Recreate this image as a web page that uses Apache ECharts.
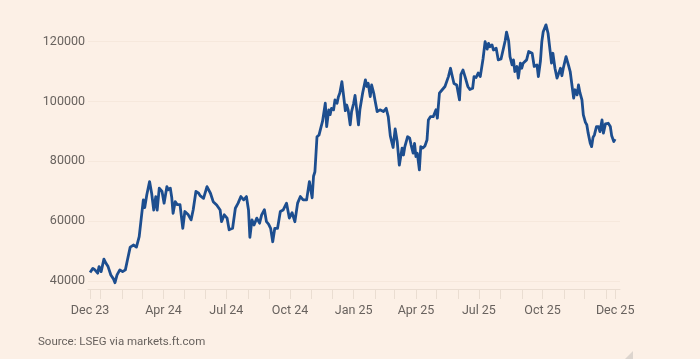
<!DOCTYPE html>
<html>
<head>
<meta charset="utf-8">
<script src="https://cdn.jsdelivr.net/npm/echarts@6/dist/echarts.min.js"></script>
<style>
  html, body { margin: 0; padding: 0; background: #FCF0E6; }
  #chart { width: 700px; height: 359px; }
</style>
</head>
<body>
<div id="chart"></div>
<script>
// Days since 17 Dec 2023 and Bitcoin price (US$)
const days = [0,4,7,11,13,16,20,23,26,30,34,36,39,43,47,51,54,58,63,67,71,74,77,79,82,86,89,92,95,97,100,104,107,111,113,116,118,120,123,126,130,134,137,142,146,149,153,157,159,164,169,174,178,183,188,190,194,198,201,206,210,214,218,222,226,229,231,234,237,241,245,248,252,255,258,261,264,267,271,275,279,284,288,292,296,300,304,308,313,317,321,323,325,328,331,334,336,340,342,345,347,349,352,354,357,359,361,364,366,369,371,373,376,378,381,383,386,388,390,394,398,400,402,405,407,410,412,415,419,424,428,431,434,438,441,444,447,451,453,455,459,462,464,467,469,471,473,476,478,481,484,487,489,492,496,500,502,505,509,511,513,518,521,523,526,530,534,536,539,542,546,549,553,555,558,561,564,568,571,574,576,578,581,583,587,590,594,597,600,602,605,607,610,612,614,617,619,622,624,626,631,634,636,639,642,646,648,651,653,655,659,662,664,667,669,672,675,677,680,682,684,688,692,694,696,699,701,704,706,708,711,713,716,718,720,723,725,727,729,732,735,737,740,742,745,747,749,752,754,757,759];
const prices = [42800,44200,43700,42600,44800,43100,47300,45900,44800,42000,40600,39400,42000,43700,43100,43700,47000,51300,52000,51300,54800,61000,67100,64500,68800,73200,69300,63700,68200,63700,71000,69900,66000,71500,70500,71000,68000,62600,66500,65500,65500,57600,63200,62100,60400,63700,69900,69300,68500,67600,71500,69300,66500,65400,63700,59800,62100,61000,57100,57600,64300,66000,68200,67100,68200,63700,54600,60400,58700,61000,59300,62100,63800,59800,59000,57600,53100,57600,57600,63200,63700,66000,61000,62800,59800,66000,68200,67100,67100,73200,67800,75000,76500,88200,88800,91600,93300,99400,91600,97200,95600,97700,97200,100500,99400,101600,102800,106600,102800,96900,98800,97200,92200,96600,99400,102000,96100,92200,97200,102800,107200,105000,106100,101600,105500,102800,100200,96600,97200,96600,97700,94900,88500,84600,90800,86500,78700,84400,82100,84900,88200,87700,85500,82700,86000,81600,82700,77100,84900,84400,85100,87100,93800,94900,94900,97200,94400,102800,103900,103300,105000,108300,111100,109000,106000,105500,100500,109000,110500,108300,105000,104000,104400,108300,108000,109500,108300,114200,120000,117500,119400,118300,118900,117200,117800,113900,114200,117200,120300,123200,120300,115000,112200,113900,110000,111700,107800,112800,111100,112800,113900,116700,117200,116100,111700,112200,108300,113500,120000,123300,125600,122800,122200,112800,116100,111100,107800,107200,111100,108600,111100,115000,111700,110000,110500,101100,103900,102200,105500,103000,100500,95500,93000,92200,89400,86000,84900,88000,88800,91600,91600,89900,93800,89400,92500,92200,92700,91600,88500,86600,87400];

// Axis labels and ticks (in days since 17 Dec 2023)
const xLabelDays = [0,106,197,289,381,471,562,654,759];
const xLabelNames = ['Dec 23','Apr 24','Jul 24','Oct 24','Jan 25','Apr 25','Jul 25','Oct 25','Dec 25'];
const xTickDays = [0,15,46,75,106,136,167,197,228,259,289,320,350,381,412,440,471,501,532,562,593,624,654,685,715,746,759];
const yTicks = [40000,60000,80000,100000,120000];
const sourceText = 'Source: LSEG via markets.ft.com';

const chart = echarts.init(document.getElementById('chart'), null, {renderer: 'canvas'});
const labelColor = '#68625e';
const fontFamily = 'Roboto, "Open Sans", sans-serif';

chart.setOption({
  backgroundColor: '#FCF0E6',
  animation: false,
  grid: { left: 88, right: 80, top: 11.7, bottom: 70, containLabel: false },
  xAxis: {
    type: 'value',
    min: -3,
    max: 766,
    axisLine: { show: true, lineStyle: { color: '#eaddd1', width: 1 } },
    axisTick: { show: true, customValues: xTickDays, length: 10, lineStyle: { color: '#eaddd1', width: 1 } },
    axisLabel: {
      show: true,
      customValues: xLabelDays,
      margin: 15,
      color: labelColor,
      fontSize: 12.5,
      fontFamily: fontFamily,
      formatter: function (v) {
        const i = xLabelDays.indexOf(Math.round(v));
        return i >= 0 ? xLabelNames[i] : '';
      }
    },
    splitLine: { show: false }
  },
  yAxis: {
    type: 'value',
    min: 37300,
    max: 130000,
    axisLine: { show: false },
    axisTick: { show: false, customValues: yTicks },
    axisLabel: {
      show: true,
      customValues: yTicks,
      margin: 3,
      color: labelColor,
      fontSize: 12.5,
      fontFamily: fontFamily,
      formatter: function (v) { return String(Math.round(v)); }
    },
    splitLine: { show: true, lineStyle: { color: '#f6e8dc', width: 1 } }
  },
  series: [{
    type: 'line',
    data: days.map((d, i) => [d, prices[i]]),
    showSymbol: false,
    symbol: 'none',
    lineStyle: { color: '#1d4e8f', width: 2.8, join: 'round' },
    clip: false
  }],
  graphic: [
    {
      type: 'text',
      left: 38,
      top: 336,
      style: { text: sourceText, fill: labelColor, fontSize: 11.5, fontFamily: fontFamily }
    },
    {
      type: 'polygon',
      shape: { points: [[633, 351], [633, 359], [625, 359]] },
      style: { fill: '#ddd5ce' }
    }
  ]
});
</script>
</body>
</html>
